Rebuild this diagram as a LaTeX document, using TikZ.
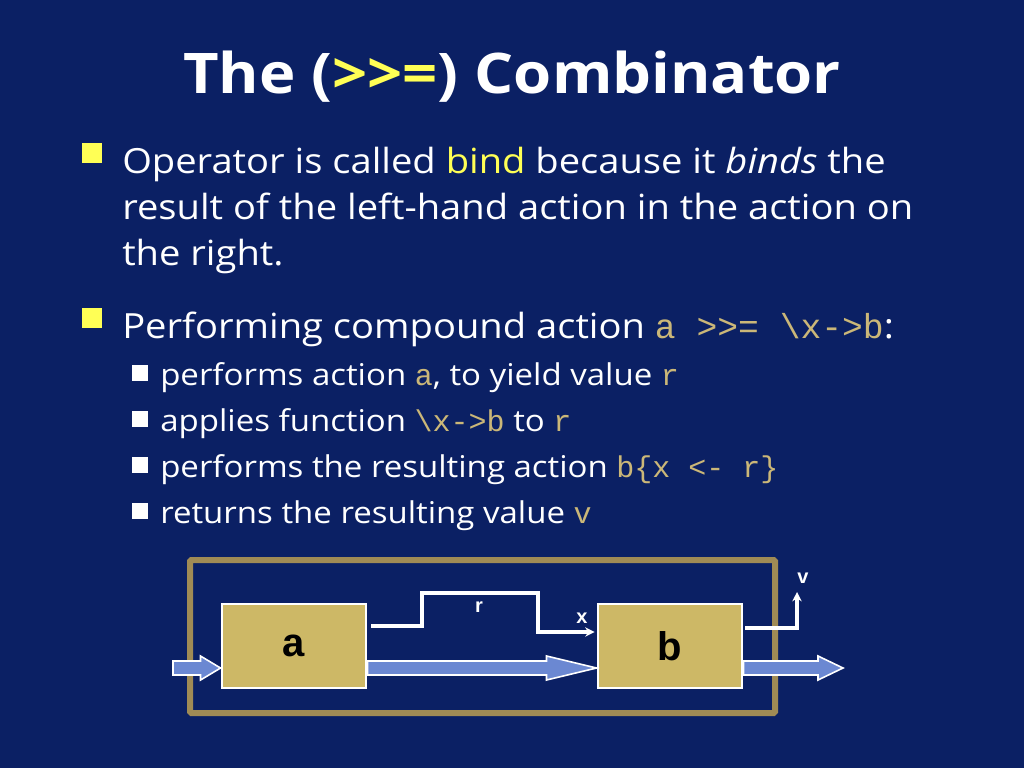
\documentclass[tikz,border=0pt]{standalone}
\usepackage{fontspec}
\setmainfont{Open Sans}[FakeStretch=1.1]
\newfontfamily\codefont{Liberation Mono}
\newfontfamily\arialfont{Liberation Sans}
\usetikzlibrary{calc,positioning,arrows.meta}
\definecolor{slidebg}{HTML}{0B2064}
\definecolor{bullet}{HTML}{FFFF55}
\definecolor{code}{HTML}{CBB778}
\definecolor{frame}{HTML}{A08B55}
\definecolor{boxfill}{HTML}{CDB866}
\definecolor{flow}{HTML}{6B88D2}
\newcommand{\cd}[1]{{\codefont\color{code}#1}}
\newcommand{\fatarrow}[3]{% from, to, head length
  \filldraw[fat] ($(#1)+(0,-7)$) -- ($(#2)+(-#3,-7)$) -- ($(#2)+(-#3,-12)$) -- (#2)
    -- ($(#2)+(-#3,12)$) -- ($(#2)+(-#3,7)$) -- ($(#1)+(0,7)$) -- cycle;}
\begin{document}
\begin{tikzpicture}[x=0.75pt,y=-0.75pt,
    txt/.style={anchor=base west,inner sep=0pt,text=white,font=\fontsize{26}{30}\selectfont},
    subtxt/.style={anchor=base west,inner sep=0pt,text=white,font=\fontsize{22.5}{26}\selectfont},
    sq/.style={fill=bullet,minimum size=15pt,inner sep=0pt},
    subsq/.style={fill=white,minimum size=12pt,inner sep=0pt},
    blk/.style={draw=white,line width=2.2pt,fill=boxfill,minimum width=108pt,minimum height=63pt,inner sep=0pt,font=\fontsize{30}{34}\selectfont\bfseries\arialfont},
    wire/.style={draw=white,line width=2.4pt},
    lbl/.style={text=white,inner sep=0pt,font=\fontsize{15}{18}\selectfont\bfseries\arialfont},
    fat/.style={draw=white,fill=flow,line width=1.2pt}]
  \fill[slidebg] (0,0) rectangle (1024,768);
  % title
  \node[text=white,font=\fontsize{42}{48}\selectfont\bfseries,anchor=base,inner sep=0pt] (title) at (512,93)
    {The ({\color{bullet}{>}{>}=}) Combinator};
  % bullets
  \node[sq] (b1) at (92,153) {};
  \node[txt] (t1a) at (122,173) {Operator is called {\color{bullet}bind} because it \emph{binds} the};
  \node[txt] (t1b) at (122,219) {result of the left-hand action in the action on};
  \node[txt] (t1c) at (122,265) {the right.};
  \node[sq] (b2) at (92,318) {};
  \node[txt] (t2) at (122,338) {Performing compound action \cd{a >>= \textbackslash x->b}:};
  \foreach \y/\t in {385/{performs action \cd{a}, to yield value \cd{r}},
                     431/{applies function \cd{\textbackslash x->b} to \cd{r}},
                     477/{performs the resulting action \cd{b\{x <- r\}}},
                     523/{returns the resulting value \cd{v}}}{
    \node[subsq] at (140,\y-12) {};
    \node[subtxt] at (160,\y) {\t};
  }
  % diagram
  \draw[frame,line width=4.5pt,rounded corners=1pt] (190,560) rectangle (775,713);
  \node[blk] (a) at (294,646) {a};
  \node[blk] (b) at (670,646) {b};
  \coordinate (in) at (173,668);
  \coordinate (out) at (843,668);
  \fatarrow{in}{a.west|-in}{20}
  \fatarrow{a.east|-in}{b.west|-in}{50}
  \fatarrow{b.east|-out}{out}{25}
  \draw[wire,-{Stealth[length=7pt,width=7pt]}] ($(a.east)+(4,-20)$) -| (422,593) -| (538,632) -- ($(b.west)+(-2,-14)$);
  \node[lbl] (r) at (479,607) {r};
  \node[lbl] (x) at (582,618) {x};
  \draw[wire,-{Stealth[length=7pt,width=7pt]}] ($(b.east)+(2,-18)$) -| (797,592);
  \node[lbl] (v) at (803,578) {v};
\end{tikzpicture}
\end{document}
